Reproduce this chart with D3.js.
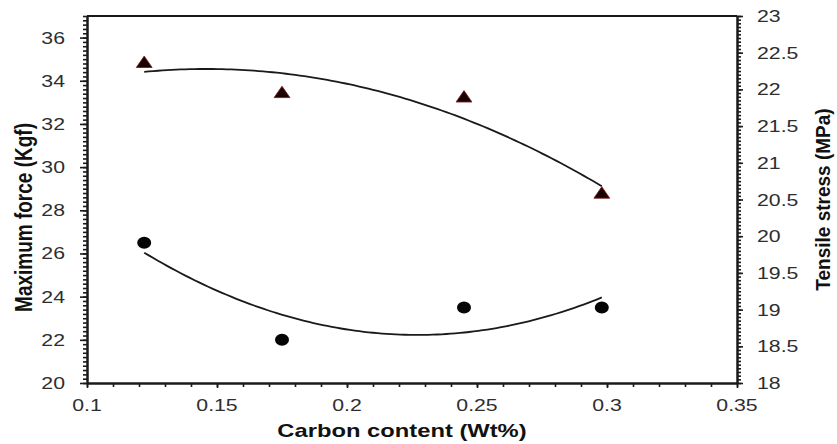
<!DOCTYPE html>
<html>
<head>
<meta charset="utf-8">
<script src="https://cdn.jsdelivr.net/npm/d3@7"></script>
<style>
  html, body { margin: 0; padding: 0; background: #fff; }
  svg { display: block; }
  text { font-family: "Liberation Sans", Arial, sans-serif; }
</style>
</head>
<body>
<svg id="chart" width="837" height="444"></svg>
<script>
// ---- data ----
const carbon = [0.122, 0.175, 0.245, 0.298];
const maxForce = [26.5, 22.0, 23.5, 23.5];          // circles, left axis (Kgf)
const tensileStress = [22.35, 21.94, 21.88, 20.57]; // triangles, right axis (MPa)

const xTickValues = [0.1, 0.15, 0.2, 0.25, 0.3, 0.35];
const xTickLabels = ["0.1", "0.15", "0.2", "0.25", "0.3", "0.35"];
const yLeftTickValues = [20, 22, 24, 26, 28, 30, 32, 34, 36];
const yLeftTickLabels = ["20", "22", "24", "26", "28", "30", "32", "34", "36"];
const yRightTickValues = [18, 18.5, 19, 19.5, 20, 20.5, 21, 21.5, 22, 22.5, 23];
const yRightTickLabels = ["18", "18.5", "19", "19.5", "20", "20.5", "21", "21.5", "22", "22.5", "23"];

const xTitle = "Carbon content (Wt%)";
const yLeftTitle = "Maximum force (Kgf)";
const yRightTitle = "Tensile stress (MPa)";

// ---- layout ----
const svg = d3.select("#chart");
const L = 87, R = 737, T = 16, B = 383;
const stretch = 1.25;

const x = d3.scaleLinear().domain([0.1, 0.35]).range([L, R]);
const yL = d3.scaleLinear().domain([20, 37]).range([B, T]);
const yR = d3.scaleLinear().domain([18, 23]).range([B, T]);

const axisColor = "#1a1a1a";

function styleAxis(g) {
  g.selectAll("path").attr("stroke", axisColor).attr("stroke-width", 2);
  g.selectAll("line").attr("stroke", axisColor).attr("stroke-width", 1.6);
  g.selectAll("text").remove();
}

// minor ticks
const xMinor = d3.range(0.1, 0.3501, 0.01);
const yLMinor = d3.range(20, 37.001, 0.2);
const yRMinor = d3.range(18, 23.001, 0.05);

svg.append("g").attr("transform", `translate(0,${B})`)
  .call(d3.axisBottom(x).tickValues(xMinor).tickSize(4).tickSizeOuter(0).tickFormat(""))
  .call(styleAxis);
svg.append("g").attr("transform", `translate(0,${B})`)
  .call(d3.axisBottom(x).tickValues(xTickValues).tickSize(5).tickSizeOuter(0).tickFormat(""))
  .call(styleAxis);

svg.append("g").attr("transform", `translate(${L},0)`)
  .call(d3.axisLeft(yL).tickValues(yLMinor).tickSize(4).tickSizeOuter(0).tickFormat(""))
  .call(styleAxis);
svg.append("g").attr("transform", `translate(${L},0)`)
  .call(d3.axisLeft(yL).tickValues(yLeftTickValues).tickSize(7).tickSizeOuter(0).tickFormat(""))
  .call(styleAxis);

svg.append("g").attr("transform", `translate(${R},0)`)
  .call(d3.axisRight(yR).tickValues(yRMinor).tickSize(4).tickSizeOuter(0).tickFormat(""))
  .call(styleAxis);
svg.append("g").attr("transform", `translate(${R},0)`)
  .call(d3.axisRight(yR).tickValues(yRightTickValues).tickSize(6).tickSizeOuter(0).tickFormat(""))
  .call(styleAxis);

// top frame line
svg.append("line")
  .attr("x1", L).attr("x2", R).attr("y1", T).attr("y2", T)
  .attr("stroke", axisColor).attr("stroke-width", 2);

// tick labels
const tickFont = 17, tickColor = "#2e2e2e";
svg.append("g").selectAll("text").data(xTickValues).join("text")
  .attr("transform", d => `translate(${x(d)},411) scale(${stretch},1)`)
  .attr("text-anchor", "middle")
  .attr("font-size", tickFont).attr("fill", tickColor)
  .text((d, i) => xTickLabels[i]);

svg.append("g").selectAll("text").data(yLeftTickValues).join("text")
  .attr("transform", d => `translate(${L - 22},${yL(d) + 6}) scale(${stretch},1)`)
  .attr("text-anchor", "end")
  .attr("font-size", tickFont).attr("fill", tickColor)
  .text((d, i) => yLeftTickLabels[i]);

svg.append("g").selectAll("text").data(yRightTickValues).join("text")
  .attr("transform", d => `translate(${R + 20},${yR(d) + 6}) scale(${stretch},1)`)
  .attr("text-anchor", "start")
  .attr("font-size", tickFont).attr("fill", tickColor)
  .text((d, i) => yRightTickLabels[i]);

// axis titles
const titleFont = 19;
svg.append("text")
  .attr("transform", `translate(${(L + R) / 2 - 10},437) scale(${stretch},1)`)
  .attr("text-anchor", "middle").attr("font-weight", "bold")
  .attr("font-size", titleFont).attr("fill", "#111")
  .text(xTitle);

svg.append("text")
  .attr("transform", `translate(32,${(T + B) / 2 + 18}) rotate(-90) scale(1,${stretch})`)
  .attr("text-anchor", "middle").attr("font-weight", "bold")
  .attr("font-size", titleFont).attr("fill", "#111")
  .text(yLeftTitle);

svg.append("text")
  .attr("transform", `translate(830,${(T + B) / 2 + 0}) rotate(-90) scale(1,1.1)`)
  .attr("text-anchor", "middle").attr("font-weight", "bold")
  .attr("font-size", titleFont).attr("fill", "#111")
  .text(yRightTitle);

// quadratic least-squares trend lines (as in the source chart)
function quadFit(xs, ys) {
  const n = xs.length;
  let s = [0, 0, 0, 0, 0], t = [0, 0, 0];
  for (let i = 0; i < n; i++) {
    const xi = xs[i], yi = ys[i];
    for (let k = 0; k < 5; k++) s[k] += Math.pow(xi, k);
    for (let k = 0; k < 3; k++) t[k] += yi * Math.pow(xi, k);
  }
  const M = [[s[0], s[1], s[2], t[0]], [s[1], s[2], s[3], t[1]], [s[2], s[3], s[4], t[2]]];
  for (let c = 0; c < 3; c++) {
    let p = c;
    for (let r = c + 1; r < 3; r++) if (Math.abs(M[r][c]) > Math.abs(M[p][c])) p = r;
    [M[c], M[p]] = [M[p], M[c]];
    for (let r = 0; r < 3; r++) {
      if (r === c) continue;
      const f = M[r][c] / M[c][c];
      for (let k = c; k < 4; k++) M[r][k] -= f * M[c][k];
    }
  }
  const a = M.map((row, i) => row[3] / row[i]);
  return xv => a[0] + a[1] * xv + a[2] * xv * xv;
}

const xs = d3.range(0, 101).map(i => carbon[0] + (carbon[3] - carbon[0]) * i / 100);
const fitF = quadFit(carbon, maxForce);
const fitS = quadFit(carbon, tensileStress);

const line = d3.line();
svg.append("path")
  .attr("d", line(xs.map(v => [x(v), yL(fitF(v))])))
  .attr("fill", "none").attr("stroke", "#1a1a1a").attr("stroke-width", 1.8);
svg.append("path")
  .attr("d", line(xs.map(v => [x(v), yR(fitS(v))])))
  .attr("fill", "none").attr("stroke", "#1a1a1a").attr("stroke-width", 1.8);

// markers
svg.append("g").selectAll("ellipse").data(carbon).join("ellipse")
  .attr("cx", d => x(d)).attr("cy", (d, i) => yL(maxForce[i]))
  .attr("rx", 7).attr("ry", 6)
  .attr("fill", "#050505");

const tri = d3.symbol().type(d3.symbolTriangle).size(75);
svg.append("g").selectAll("path").data(carbon).join("path")
  .attr("transform", (d, i) => `translate(${x(d)},${yR(tensileStress[i])}) scale(1.2,1)`)
  .attr("d", tri)
  .attr("fill", "#1a0000").attr("stroke", "#7a1f1f").attr("stroke-width", 0.8);
</script>
</body>
</html>
